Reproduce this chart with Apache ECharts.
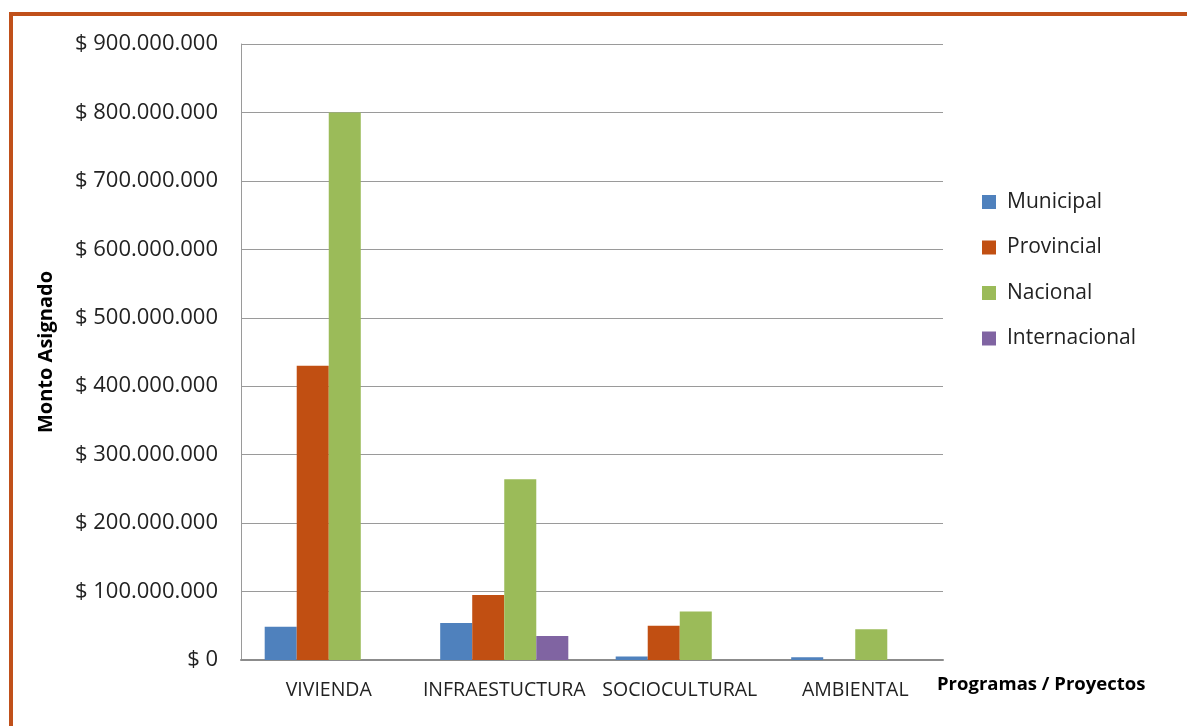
<!DOCTYPE html>
<html>
<head>
<meta charset="utf-8">
<script src="https://cdn.jsdelivr.net/npm/echarts@6/dist/echarts.min.js"></script>
<style>
  html, body { margin: 0; padding: 0; background: #ffffff; }
  #chart { width: 1187px; height: 726px; position: relative; }
  #frame { position: absolute; left: 9px; top: 12px; right: 0; bottom: 0;
           border-left: 4px solid #C0501A; border-top: 4px solid #C0501A; pointer-events: none; }
</style>
</head>
<body>
<div style="position:relative;width:1187px;height:726px;">
  <div id="chart"></div>
  <div id="frame"></div>
</div>
<script>
const categories = ['VIVIENDA', 'INFRAESTUCTURA', 'SOCIOCULTURAL', 'AMBIENTAL'];
const municipal     = [48500000, 54000000, 5000000, 4000000];
const provincial    = [430000000, 95000000, 50000000, 0];
const nacional      = [800000000, 264000000, 71000000, 45000000];
const internacional = [0, 35000000, 0, 0];
const seriesNames = ['Municipal', 'Provincial', 'Nacional', 'Internacional'];
const seriesColors = ['#4F81BD', '#C14F12', '#9BBB59', '#8064A2'];
const yMax = 900000000;
const yStep = 100000000;

function money(v) {
  return '$ ' + String(Math.round(v)).replace(/\B(?=(\d{3})+(?!\d))/g, '.');
}

const chart = echarts.init(document.getElementById('chart'), null, { renderer: 'canvas' });
const values = [municipal, provincial, nacional, internacional];
chart.setOption({
  animation: false,
  backgroundColor: '#ffffff',
  textStyle: { fontFamily: 'Open Sans' },
  grid: { left: 241, right: 244, top: 44, bottom: 66, containLabel: false },
  legend: {
    orient: 'vertical',
    left: 977,
    top: 185,
    itemWidth: 14,
    itemHeight: 14,
    itemGap: 21.5,
    icon: 'rect',
    data: seriesNames,
    textStyle: { fontFamily: 'Open Sans', fontSize: 21, color: '#222', lineHeight: 24, padding: [0, 0, 0, 6] }
  },
  xAxis: {
    type: 'category',
    data: categories,
    name: 'Programas / Proyectos',
    nameLocation: 'end',
    nameGap: -6,
    nameTextStyle: { fontFamily: 'Open Sans', fontWeight: 'bold', fontSize: 18.5, color: '#000',
                     align: 'left', verticalAlign: 'top', padding: [15, 0, 0, 0] },
    axisLine: { lineStyle: { color: '#8c8c8c', width: 2 } },
    axisTick: { show: false },
    axisLabel: { fontFamily: 'Open Sans', fontSize: 19.5, color: '#222', margin: 20, interval: 0 }
  },
  yAxis: {
    type: 'value',
    min: 0,
    max: yMax,
    interval: yStep,
    name: 'Monto Asignado',
    nameLocation: 'middle',
    nameRotate: 90,
    nameGap: 185,
    nameTextStyle: { fontFamily: 'Open Sans', fontWeight: 'bold', fontSize: 20, color: '#000' },
    axisLine: { show: true, lineStyle: { color: '#9a9a9a', width: 1 } },
    axisTick: { show: false },
    splitLine: { lineStyle: { color: '#9a9a9a', width: 1 } },
    axisLabel: { fontFamily: 'Open Sans', fontSize: 22, color: '#222', margin: 23, formatter: money }
  },
  series: seriesNames.map((n, i) => ({
    name: n,
    type: 'bar',
    data: values[i],
    barGap: '0%',
    barCategoryGap: '27%',
    itemStyle: { color: seriesColors[i] }
  }))
});
</script>
</body>
</html>
